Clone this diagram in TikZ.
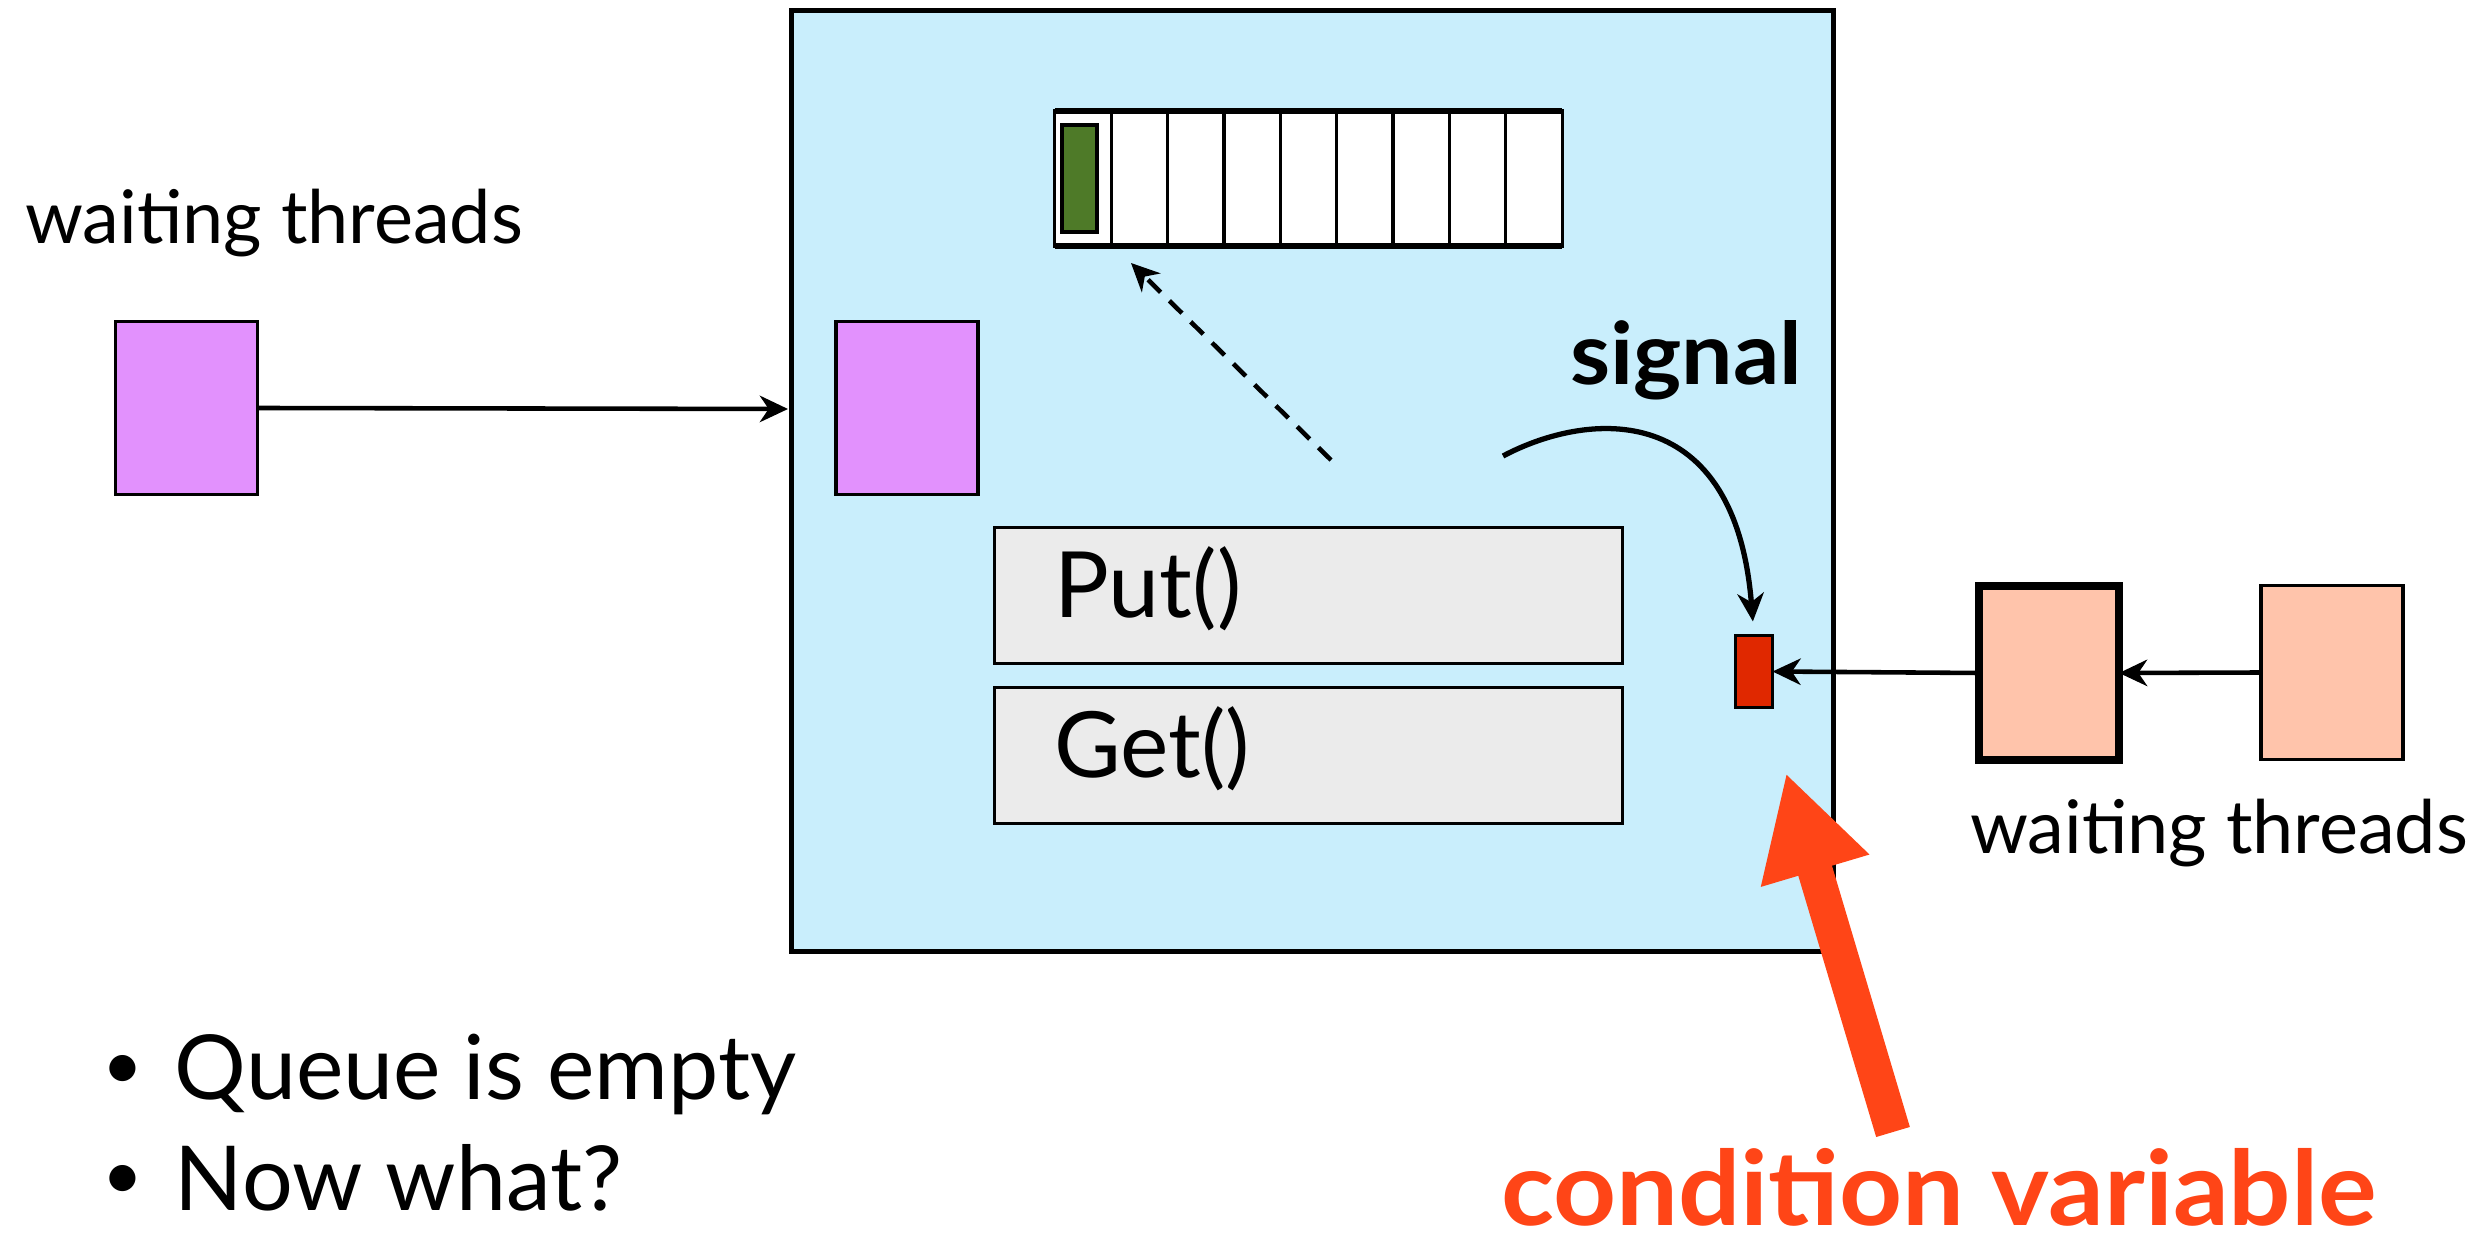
\documentclass[tikz,border=0pt]{standalone}
\usepackage{fontspec}
\setmainfont{Lato}
\usetikzlibrary{arrows.meta,calc}
\definecolor{monitorbg}{RGB}{201,238,252}
\definecolor{threadpink}{RGB}{226,145,253}
\definecolor{itemgreen}{RGB}{78,122,40}
\definecolor{methodgray}{RGB}{235,235,235}
\definecolor{cvred}{RGB}{224,40,0}
\definecolor{peach}{RGB}{255,196,171}
\definecolor{cvorange}{RGB}{255,69,23}
\tikzset{
  box/.style={draw, line width=1pt, inner sep=0pt, outer sep=0pt},
  thread/.style={box, minimum width=1.42cm, minimum height=1.73cm},
  method/.style={box, line width=0.9pt, fill=methodgray, minimum width=6.28cm, minimum height=1.36cm,
    inner xsep=0.6cm, text width=5.08cm, align=left, text height=0.68cm, text depth=0.25cm,
    font=\fontsize{26pt}{30pt}\selectfont},
  conn/.style={line width=1.3pt, -{Stealth[length=8pt,width=7.5pt,inset=2.5pt]}},
  txt/.style={anchor=base west, inner sep=0pt, outer sep=0pt},
  bullet/.style={txt, font=\fontsize{25.5pt}{30pt}\selectfont},
}
\newcommand{\itemdot}{\makebox[17.6pt][l]{\hspace{-3pt}\raisebox{3pt}{\fontsize{20pt}{20pt}\selectfont\textbullet}}}
\begin{document}
\begin{tikzpicture}[x=0.01cm, y=-0.01cm]
\useasboundingbox (0,0) rectangle (2487,1240);

% monitor
\node[box, line width=1.3pt, fill=monitorbg, minimum width=10.41cm, minimum height=9.40cm] (monitor) at (1312.5,481) {};

% shared queue with nine slots, one item in the first
\node[box, line width=0.9pt, fill=white, minimum width=5.07cm, minimum height=1.35cm] (queue) at (1308.5,178.5) {};
\draw[line width=1.8pt] (queue.north west) -- (queue.north east);
\draw[line width=1.8pt] (queue.south west) -- (queue.south east);
\foreach \i in {1,...,8}
  \draw[line width=0.9pt] ($(queue.north west)!\i/9!(queue.north east)$) -- ($(queue.south west)!\i/9!(queue.south east)$);
\node[box, line width=1.2pt, fill=itemgreen, minimum width=0.35cm, minimum height=1.07cm] (item) at (1079.5,178.5) {};

% threads entering the monitor
\node[thread, fill=threadpink] (enter) at (186.5,408) {};
\node[thread, fill=threadpink] (inside) at (907,408) {};
\coordinate (entry) at (788,409);
\draw[conn] (enter.east) -- (entry);
\node[txt, font=\fontsize{21pt}{25pt}\selectfont] (lwait) at (25,244) {waiting threads};

% methods
\node[method] (put) at (1308.5,595.5) {Put()};
\node[method] (get) at (1308.5,755.5) {Get()};

% dashed access to the queue
\coordinate (dstart) at (1331,460);
\coordinate (dtip) at (1131,263);
\draw[conn, dash pattern=on 5pt off 3.5pt] (dstart) -- (dtip);

% condition variable and its waiting threads
\node[box, line width=0.9pt, fill=cvred, minimum width=0.37cm, minimum height=0.72cm] (cv) at (1754,671.5) {};
\node[box, line width=2.3pt, fill=peach, minimum width=1.40cm, minimum height=1.74cm] (w1) at (2049,673) {};
\node[thread, fill=peach, minimum height=1.74cm] (w2) at (2332,672.5) {};
\draw[conn] (w2.west) -- (w1.east);
\draw[conn] (w1.west) -- (cv.east);
\node[txt, font=\fontsize{21pt}{25pt}\selectfont] (rwait) at (1970,854) {waiting threads};

% signal
\coordinate (sigstart) at (1503,456);
\draw[conn, line width=1.5pt, shorten >=4pt] (sigstart) .. controls (1590,410) and (1735,400) .. (cv.north);
\node[txt, font=\bfseries\fontsize{24.5pt}{28pt}\selectfont] (siglabel) at (1570,385) {\scalebox{1.06}[1]{signal}};

% bullets
\node[bullet] (b1) at (113,1100) {\itemdot Queue is empty};
\node[bullet] (b2) at (113,1210) {\itemdot Now what?};

% pointer to the condition variable
\coordinate (cvtail) at (1893,1132);
\coordinate (cvtip) at (1786,773);
\draw[cvorange, line width=10pt, -{Triangle[length=29pt,width=30pt]}] (cvtail) -- (cvtip);
\node[txt, text=cvorange, font=\bfseries\fontsize{29.5pt}{33pt}\selectfont] (cvlabel) at (1501,1225) {\scalebox{1.06}[1]{condition variable}};
\end{tikzpicture}
\end{document}
